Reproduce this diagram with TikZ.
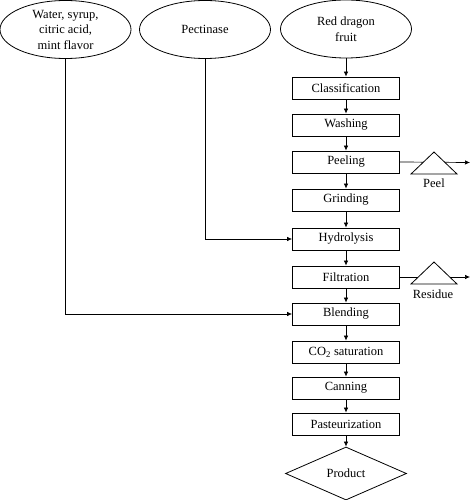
\documentclass[tikz,border=0pt]{standalone}
\usepackage{fontspec}
\setmainfont{Liberation Serif}
\usetikzlibrary{shapes.geometric,arrows.meta}
\begin{document}
\begin{tikzpicture}[x=1pt,y=-1pt,
  font=\fontsize{12.5}{15.5}\selectfont,
  ell/.style={draw,ellipse,line width=0.8pt,minimum width=131pt,minimum height=58pt,inner sep=0pt,align=center},
  stepbox/.style={draw,rectangle,line width=0.8pt,minimum width=107pt,minimum height=22pt,inner sep=0pt},
  arr/.style={-{Latex[length=5pt,width=4.5pt]},line width=0.7pt},
  ln/.style={line width=0.7pt},
  tri/.style={draw,fill=white,line width=0.8pt}]
\useasboundingbox (0,0) rectangle (470,500);
\node[ell] (e1) at (65.5,29.5) {Water, syrup,\\citric acid,\\mint flavor};
\node[ell] (e2) at (205,29.5) {Pectinase};
\node[ell] (e3) at (346,29) {Red dragon\\fruit};
\node[stepbox] (s1) at (346,88) {Classification};
\node[stepbox] (s2) at (346,125) {Washing};
\node[stepbox] (s3) at (346,162) {Peeling};
\node[stepbox] (s4) at (346,200) {Grinding};
\node[stepbox] (s5) at (346,239) {Hydrolysis};
\node[stepbox] (s6) at (346,277) {Filtration};
\node[stepbox] (s7) at (346,314) {Blending};
\node[stepbox] (s8) at (346,352) {CO\textsubscript{2} saturation};
\node[stepbox] (s9) at (346,388) {Canning};
\node[stepbox] (s10) at (346,424) {Pasteurization};
\node[draw,diamond,line width=0.8pt,minimum width=121pt,minimum height=53pt,inner sep=0pt,aspect=2.28] (p) at (346,473.5) {Product};
\draw[arr] (e3) -- (s1);
\draw[arr] (s1) -- (s2);
\draw[arr] (s2) -- (s3);
\draw[arr] (s3) -- (s4);
\draw[arr] (s4) -- (s5);
\draw[arr] (s5) -- (s6);
\draw[arr] (s6) -- (s7);
\draw[arr] (s7) -- (s8);
\draw[arr] (s8) -- (s9);
\draw[arr] (s9) -- (s10);
\draw[arr] (s10) -- (p);
\draw[arr] (e2.south) |- (s5.west);
\draw[arr] (e1.south) |- (s7.west);
% side outputs
\coordinate (o1) at (470,162.5);
\coordinate (o2) at (470,277);
\draw[arr] (s3.east) -- (o1);
\draw[arr] (s6.east) -- (o2);
\draw[tri] (411,174) -- (434,152) -- (457,174) -- cycle;
\draw[tri] (411,284) -- (434,262) -- (457,284) -- cycle;
\node (peel) at (434,183) {Peel};
\node (res) at (433,294) {Residue};
\end{tikzpicture}
\end{document}
